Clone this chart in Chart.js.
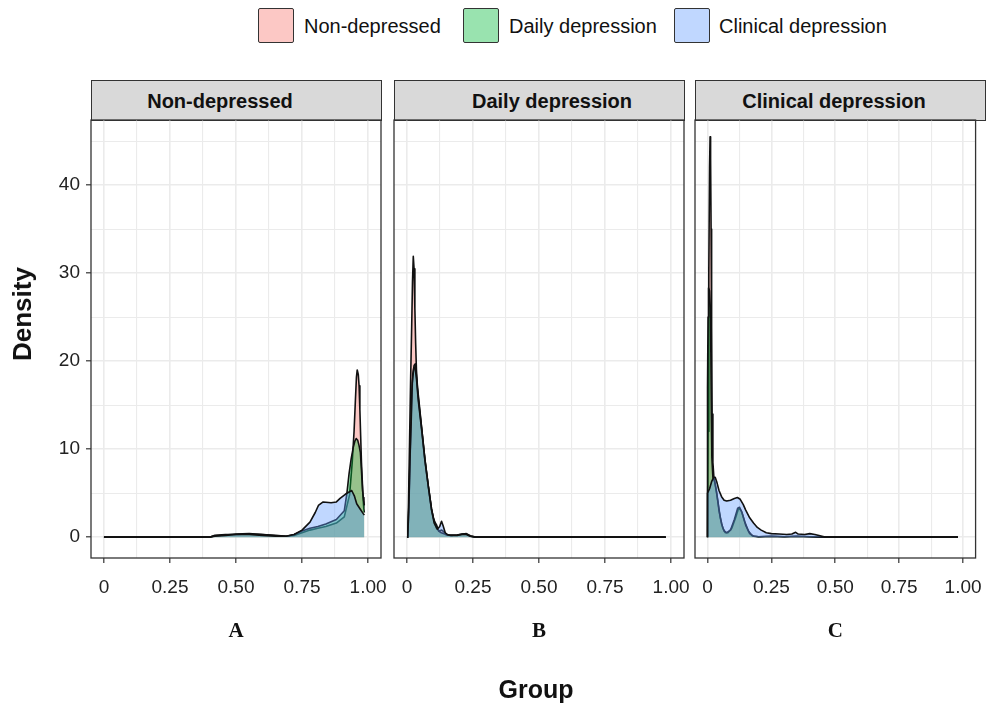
<!DOCTYPE html>
<html><head><meta charset="utf-8">
<script src="https://cdn.jsdelivr.net/npm/chart.js@4.4.1/dist/chart.umd.min.js"></script>
<style>
html,body{margin:0;padding:0;background:#fff;overflow:hidden;width:995px;height:703px;}
body{position:relative;font-family:"Liberation Sans",Arial,sans-serif;}
.key{position:absolute;top:8px;width:36px;height:35px;box-sizing:border-box;border:1.5px solid #333;border-radius:2px;}
.lab{position:absolute;top:26px;transform:translateY(-50%);font-size:20px;color:#111;white-space:nowrap;line-height:1;}
.strip{position:absolute;top:80px;height:41px;box-sizing:border-box;background:#d9d9d9;border:1.2px solid #333;}
.stripText{position:absolute;top:101px;transform:translate(-50%,-50%);font-weight:bold;font-size:20px;color:#111;white-space:nowrap;line-height:1;}
.panel{position:absolute;top:100px;height:570px;}
.title{position:absolute;font-weight:bold;color:#111;white-space:nowrap;line-height:1;}
</style></head><body>

<div class="key" style="left:258px;background:rgba(248,118,109,0.4)"></div>
<div class="lab" style="left:304px">Non-depressed</div>
<div class="key" style="left:463px;background:rgba(0,186,56,0.4)"></div>
<div class="lab" style="left:509px">Daily depression</div>
<div class="key" style="left:674px;background:rgba(97,156,255,0.4)"></div>
<div class="lab" style="left:719px">Clinical depression</div>

<div class="strip" style="left:91px;width:291px"></div>
<div class="stripText" style="left:220px">Non-depressed</div>
<div class="strip" style="left:394px;width:291px"></div>
<div class="stripText" style="left:552px">Daily depression</div>
<div class="strip" style="left:695px;width:291px"></div>
<div class="stripText" style="left:834px">Clinical depression</div>

<div class="panel" style="left:0px;width:401px"><canvas id="cA"></canvas></div>
<div class="panel" style="left:374px;width:330px"><canvas id="cB"></canvas></div>
<div class="panel" style="left:675px;width:320px"><canvas id="cC"></canvas></div>

<div class="title" style="left:22px;top:314px;font-size:26px;transform:translate(-50%,-50%) rotate(-90deg)">Density</div>
<div class="title" style="left:536px;top:689px;font-size:25px;transform:translate(-50%,-50%)">Group</div>

<script>
// ---- tick labels / categories ----
const groups = ['Non-depressed', 'Daily depression', 'Clinical depression'];
const panelLetters = ['A', 'B', 'C'];
const xMajorTicks = [0, 0.25, 0.5, 0.75, 1];
const xTickLabels = ['0', '0.25', '0.50', '0.75', '1.00'];
const yMajorTicks = [0, 10, 20, 30, 40];
const yTickLabels = ['0', '10', '20', '30', '40'];

// ---- Panel A (Non-depressed) densities: [x, density] ----
const A_nonDepressed = [[0,0],[0.40,0],[0.42,0.15],[0.46,0.25],[0.5,0.35],[0.55,0.4],[0.6,0.3],[0.65,0.15],[0.69,0.1],[0.72,0.2],[0.75,0.5],[0.78,0.8],[0.81,1.0],[0.84,1.2],[0.88,1.6],[0.91,2.3],[0.93,4.8],[0.94,8.5],[0.947,12],[0.952,15.5],[0.956,18.2],[0.959,19],[0.963,18.5],[0.966,17.2],[0.969,14.5],[0.972,11.5],[0.975,8.5],[0.978,6.5],[0.981,4.5],[0.984,3.2],[0.986,2.8]];
const A_daily = [[0,0],[0.40,0],[0.42,0.2],[0.46,0.3],[0.5,0.3],[0.55,0.35],[0.6,0.3],[0.65,0.2],[0.69,0.1],[0.72,0.3],[0.75,0.7],[0.78,1.0],[0.81,1.2],[0.84,1.5],[0.88,2.0],[0.91,3.0],[0.92,5.0],[0.928,7.2],[0.936,8.9],[0.944,10.2],[0.95,10.9],[0.955,11.2],[0.961,11],[0.966,10.4],[0.971,9.6],[0.975,7.6],[0.979,5.4],[0.983,4.2],[0.986,3.6]];
const A_clinical = [[0,0],[0.40,0],[0.42,0.1],[0.46,0.2],[0.5,0.3],[0.55,0.3],[0.6,0.2],[0.65,0.1],[0.69,0.1],[0.72,0.3],[0.75,0.8],[0.78,1.7],[0.8,2.8],[0.812,3.6],[0.83,4.0],[0.86,3.9],[0.88,4.0],[0.894,4.4],[0.915,4.9],[0.938,5.3],[0.948,4.7],[0.957,3.8],[0.97,3.2],[0.981,2.7],[0.986,2.5]];

// ---- Panel B (Daily depression) ----
const B_nonDepressed = [[0,0],[0.003,0],[0.006,4],[0.01,11],[0.014,18],[0.018,24],[0.021,29],[0.024,31.9],[0.027,30.5],[0.03,26],[0.033,22],[0.036,19],[0.04,17],[0.045,15.6],[0.056,12.3],[0.068,8.9],[0.081,5.8],[0.093,3.2],[0.103,1.8],[0.112,1.0],[0.122,0.7],[0.132,0.8],[0.14,0.6],[0.15,0.3],[0.165,0.2],[0.19,0.25],[0.21,0.35],[0.225,0.4],[0.24,0.15],[0.26,0],[0.98,0]];
const B_daily = [[0,0],[0.003,0],[0.007,3],[0.012,9],[0.017,15],[0.022,18.5],[0.027,19.5],[0.032,19.7],[0.037,18],[0.043,15.8],[0.056,12.3],[0.068,8.8],[0.081,5.8],[0.093,3.2],[0.1,2.2],[0.106,1.7],[0.112,1.4],[0.12,0.7],[0.13,0.5],[0.14,0.4],[0.15,0.25],[0.165,0.2],[0.19,0.25],[0.21,0.35],[0.225,0.35],[0.24,0.1],[0.26,0],[0.98,0]];
const B_clinical = [[0,0],[0.003,0],[0.007,3.4],[0.012,9.5],[0.016,13],[0.02,17.5],[0.026,19.2],[0.031,19.3],[0.036,18],[0.043,15.5],[0.056,12.1],[0.068,8.7],[0.081,5.7],[0.093,3.1],[0.103,1.6],[0.115,0.9],[0.124,1.2],[0.131,1.8],[0.137,1.3],[0.145,0.5],[0.155,0.25],[0.17,0.2],[0.19,0.2],[0.21,0.3],[0.225,0.3],[0.24,0.1],[0.26,0],[0.98,0]];

// ---- Panel C (Clinical depression) ----
const C_nonDepressed = [[0,0],[0.002,12],[0.005,30],[0.008,42],[0.01,45.5],[0.012,43],[0.014,35],[0.016,24],[0.018,14],[0.021,8.5],[0.025,6.8],[0.03,6.0],[0.04,4.2],[0.05,2.2],[0.06,1.0],[0.07,0.5],[0.08,0.5],[0.095,1.0],[0.11,2.2],[0.122,3.3],[0.132,3.0],[0.145,1.8],[0.16,0.7],[0.175,0.15],[0.2,0.05],[0.25,0.1],[0.3,0.05],[0.35,0.1],[0.4,0.05],[0.45,0],[0.98,0]];
const C_daily = [[0,0],[0,17],[0.002,25],[0.004,28.3],[0.008,28],[0.011,26],[0.013,21],[0.015,14],[0.017,9],[0.021,6.8],[0.028,6.3],[0.035,5.2],[0.045,3.0],[0.055,1.5],[0.065,0.7],[0.075,0.5],[0.09,0.8],[0.105,2.0],[0.118,3.3],[0.125,3.4],[0.135,2.8],[0.15,1.3],[0.165,0.4],[0.18,0.1],[0.2,0.05],[0.25,0.1],[0.3,0.05],[0.35,0.1],[0.4,0.05],[0.45,0],[0.98,0]];
const C_clinical = [[0,0],[0,5],[0.008,5.5],[0.016,6.3],[0.024,6.8],[0.03,6.8],[0.037,6.2],[0.045,5.3],[0.055,4.6],[0.065,4.2],[0.075,4.1],[0.09,4.2],[0.105,4.4],[0.117,4.5],[0.128,4.3],[0.14,3.7],[0.149,3.1],[0.165,2.2],[0.18,1.6],[0.195,1.1],[0.21,0.8],[0.23,0.5],[0.25,0.4],[0.28,0.35],[0.31,0.3],[0.33,0.35],[0.345,0.55],[0.355,0.35],[0.38,0.3],[0.4,0.4],[0.42,0.3],[0.44,0.15],[0.46,0],[0.98,0]];

// ---- styling ----
const FONT = '"Liberation Sans", Arial, sans-serif';
const fillColors = ['rgba(248,118,109,0.4)', 'rgba(0,186,56,0.4)', 'rgba(97,156,255,0.4)'];
const isMajor = (arr, v) => arr.some(m => Math.abs(m - v) < 1e-9);

const frame = {
  id: 'frame',
  afterDatasetsDraw(chart) {
    const {ctx, chartArea: a} = chart;
    ctx.save();
    ctx.strokeStyle = '#333';
    ctx.lineWidth = 1.3;
    ctx.strokeRect(a.left, a.top, a.right - a.left, a.bottom - a.top);
    ctx.restore();
  }
};

function makeChart(id, series, letter, showY, pad) {
  // draw order: Non-depressed first, Clinical on top
  const datasets = series.map((s, i) => ({
    label: groups[i],
    data: s.map(p => ({x: p[0], y: p[1]})),
    borderColor: '#111',
    borderWidth: 1.6,
    borderJoinStyle: 'round',
    backgroundColor: fillColors[i],
    fill: 'origin',
    pointRadius: 0,
    tension: 0,
    order: 3 - i
  }));
  const gridX = {
    color: '#ebebeb',
    lineWidth: c => (c.tick && isMajor(xMajorTicks, c.tick.value)) ? 1.6 : 1.1,
    tickColor: c => (c.tick && isMajor(xMajorTicks, c.tick.value)) ? '#333' : 'rgba(0,0,0,0)',
    tickLength: 5, tickWidth: 1.2
  };
  const gridY = {
    color: '#ebebeb',
    lineWidth: c => (c.tick && isMajor(yMajorTicks, c.tick.value)) ? 1.6 : 1.1,
    tickColor: c => (c.tick && isMajor(yMajorTicks, c.tick.value)) ? '#333' : 'rgba(0,0,0,0)',
    tickLength: 5, tickWidth: 1.2,
    drawTicks: showY
  };
  return new Chart(document.getElementById(id), {
    type: 'line',
    data: {datasets},
    plugins: [frame],
    options: {
      responsive: true, maintainAspectRatio: false, animation: false, events: [],
      layout: {padding: pad},
      plugins: {legend: {display: false}, tooltip: {enabled: false}},
      scales: {
        x: {
          type: 'linear', min: -0.049, max: 1.049,
          border: {display: false},
          grid: gridX,
          ticks: {
            stepSize: 0.125, includeBounds: false, autoSkip: false, maxRotation: 0,
            padding: 13, color: '#222', font: {family: FONT, size: 19},
            callback: v => { const i = xMajorTicks.findIndex(m => Math.abs(m - v) < 1e-9); return i >= 0 ? xTickLabels[i] : ''; }
          },
          title: {display: true, text: letter, color: '#111',
                  font: {family: '"Liberation Serif", "Times New Roman", serif', weight: 'bold', size: 21},
                  padding: {top: 0, bottom: 26}},
          afterFit: s => { s.height = 112; }
        },
        y: {
          type: 'linear', min: -2.37, max: 47.4,
          border: {display: false},
          grid: gridY,
          ticks: {
            display: showY,
            stepSize: 5, includeBounds: false, autoSkip: false,
            padding: 6, color: '#222', font: {family: FONT, size: 19},
            callback: v => { const i = yMajorTicks.findIndex(m => Math.abs(m - v) < 1e-9); return i >= 0 ? yTickLabels[i] : ''; }
          },
          afterFit: s => { s.width = showY ? 91 : 0; }
        }
      }
    }
  });
}

makeChart('cA', [A_nonDepressed, A_daily, A_clinical], panelLetters[0], true, {top: 20, left: 0, right: 20, bottom: 0});
makeChart('cB', [B_nonDepressed, B_daily, B_clinical], panelLetters[1], false, {top: 20, left: 20, right: 20, bottom: 0});
makeChart('cC', [C_nonDepressed, C_daily, C_clinical], panelLetters[2], false, {top: 20, left: 20, right: 10, bottom: 0});
</script>
</body></html>
